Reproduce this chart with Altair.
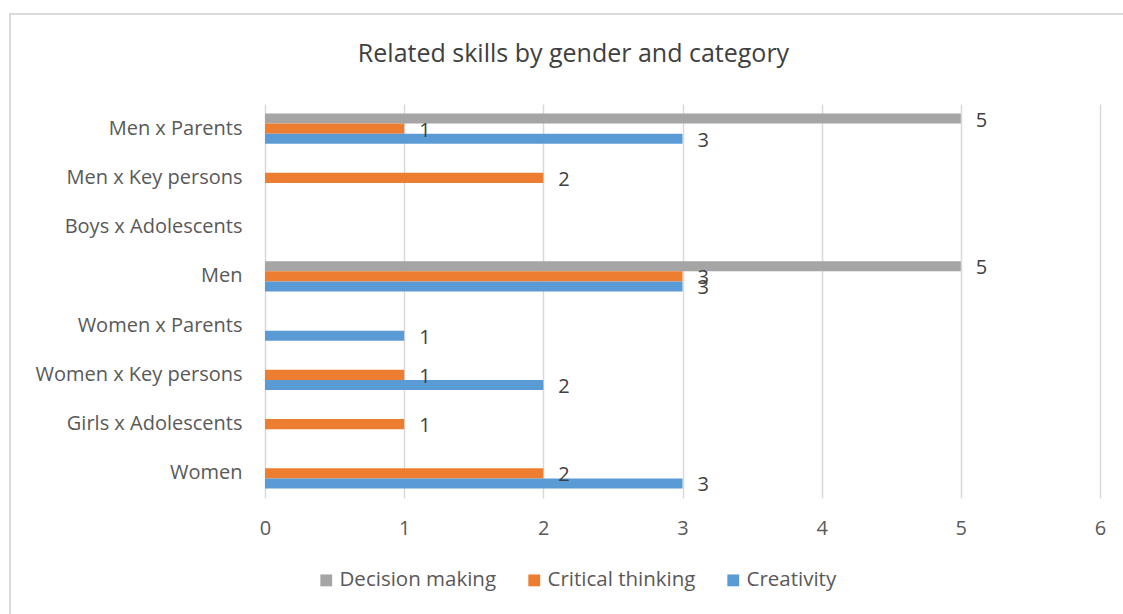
import altair as alt
import pandas as pd

categories = ["Men x Parents", "Men x Key persons", "Boys x Adolescents", "Men",
              "Women x Parents", "Women x Key persons", "Girls x Adolescents", "Women"]
series = ["Decision making", "Critical thinking", "Creativity"]
colors = ["#A5A5A5", "#ED7D31", "#5B9BD5"]

# values per category (None = no bar)
decision_making = [5, None, None, 5, None, None, None, None]
critical_thinking = [1, 2, None, 3, None, 1, 1, 2]
creativity = [3, None, None, 3, 1, 2, None, 3]

rows = []
for s, vals in zip(series, [decision_making, critical_thinking, creativity]):
    for c, v in zip(categories, vals):
        if v is not None:
            rows.append({"category": c, "series": s, "value": v})
df = pd.DataFrame(rows)

FONT = "Open Sans"
W, H = 835, 394
PL, PT = 265, 104

yscale = alt.Scale(domain=categories, paddingInner=0.39, paddingOuter=0.195)
y_enc = alt.Y("category:N", sort=categories, title=None, scale=yscale,
              axis=alt.Axis(labelFont=FONT, labelFontSize=20, labelColor="#595959",
                            labelPadding=23, ticks=False, domain=False, grid=False,
                            labelBaseline="middle", labelLimit=400))
yoff = alt.YOffset("series:N", sort=series, scale=alt.Scale(domain=series, paddingInner=0, paddingOuter=0))
x_enc = alt.X("value:Q", title=None,
              scale=alt.Scale(domain=[0, 6], nice=False),
              axis=alt.Axis(values=[0, 1, 2, 3, 4, 5, 6], format="d", labelFont=FONT,
                            labelFontSize=20, labelColor="#595959", labelPadding=20,
                            labelFlush=False, labelOverlap=False,
                            ticks=False, domain=False, grid=True, gridColor="#D9D9D9",
                            gridWidth=1.5))

bars = alt.Chart(df).mark_bar().encode(
    y=y_enc, yOffset=yoff, x=x_enc,
    color=alt.Color("series:N", sort=series,
                    scale=alt.Scale(domain=series, range=colors),
                    legend=alt.Legend(title=None, orient="none", direction="horizontal",
                                      legendX=51, legendY=466, symbolType="square",
                                      symbolSize=140, symbolStrokeWidth=0,
                                      labelFont=FONT, labelFontSize=20.5,
                                      labelColor="#595959", labelOffset=3,
                                      columnPadding=27))
)

labels = alt.Chart(df).mark_text(align="left", baseline="middle", dx=15, dy=2,
                                 font=FONT, fontSize=20, color="#404040").encode(
    y=alt.Y("category:N", sort=categories, scale=yscale), yOffset=yoff, x="value:Q",
    text=alt.Text("value:Q", format="d")
)

frame = alt.Chart(alt.Data(values=[{}])).mark_rect(
    fill="white", fillOpacity=0, stroke="#D9D9D9", strokeWidth=2).encode(
    x=alt.value(10 - PL), y=alt.value(14 - PT),
    x2=alt.value(1123 - PL + 30), y2=alt.value(614 - PT + 30))

chart = alt.layer(frame, bars, labels).properties(
    width=W, height=H,
    padding={"left": PL, "top": PT, "right": 1123 - PL - W, "bottom": 614 - PT - H},
    autosize=alt.AutoSizeParams(type="none"),
    title=alt.TitleParams("Related skills by gender and category", font=FONT,
                          fontSize=25, fontWeight="normal", color="#404040",
                          anchor="middle", frame="group", dx=-109, offset=-74,
                          baseline="alphabetic")
).configure(background="white").configure_view(stroke=None)

chart.save("out.html", embed_options={"renderer": "svg", "actions": False})
